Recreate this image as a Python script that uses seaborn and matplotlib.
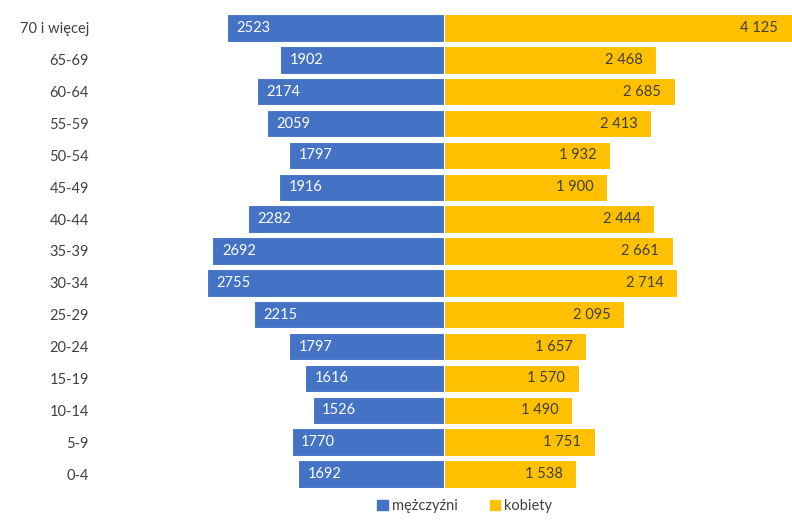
import numpy as np
import pandas as pd
import seaborn as sns
import matplotlib.pyplot as plt
from matplotlib.patches import Patch

groups = ['70 i więcej', '65-69', '60-64', '55-59', '50-54', '45-49', '40-44', '35-39',
          '30-34', '25-29', '20-24', '15-19', '10-14', '5-9', '0-4']
men = [2523, 1902, 2174, 2059, 1797, 1916, 2282, 2692, 2755, 2215, 1797, 1616, 1526, 1770, 1692]
women = [4125, 2468, 2685, 2413, 1932, 1900, 2444, 2661, 2714, 2095, 1657, 1570, 1490, 1751, 1538]

blue = '#4472C4'
yellow = '#FFC000'
txt = '#404040'

sns.set_theme(style='white')
plt.rcParams['font.family'] = ['Lato', 'DejaVu Sans']

df = pd.DataFrame({'grupa': groups, 'm': -np.array(men), 'k': women})

fig = plt.figure(figsize=(7.92, 5.22), dpi=100)
ax = fig.add_axes([100 / 792, 32 / 522, 692 / 792, 478 / 522])

sns.barplot(data=df, x='m', y='grupa', color=blue, width=0.86, orient='h',
            edgecolor='white', linewidth=0.8, saturation=1, ax=ax)
sns.barplot(data=df, x='k', y='grupa', color=yellow, width=0.86, orient='h',
            edgecolor='white', linewidth=0.8, saturation=1, ax=ax)

xmin, xmax = -4000, 4047
ax.set_xlim(xmin, xmax)
ax.set_ylim(14.5, -0.5)

for i, (m, k) in enumerate(zip(men, women)):
    ax.text(-m + 110, i, str(m), color='white', va='center', ha='left', fontsize=10.5)
    ax.text(min(k, xmax) - 160, i, f'{k:,}'.replace(',', ' '), color=txt,
            va='center', ha='right', fontsize=10.5)

for s in ax.spines.values():
    s.set_visible(False)
ax.set_xticks([])
ax.set_xlabel('')
ax.set_ylabel('')
ax.tick_params(axis='y', length=0, pad=8, labelsize=10.5, labelcolor=txt)

handles = [Patch(color=blue, label='mężczyźni'), Patch(color=yellow, label='kobiety')]
fig.legend(handles=handles, loc='lower center', bbox_to_anchor=(0.587, -0.008), ncol=2,
           frameon=False, fontsize=10.5, handlelength=0.7, handleheight=0.7,
           handletextpad=0.3, columnspacing=2.2, labelcolor=txt)

fig.savefig('out.png', dpi=100)
